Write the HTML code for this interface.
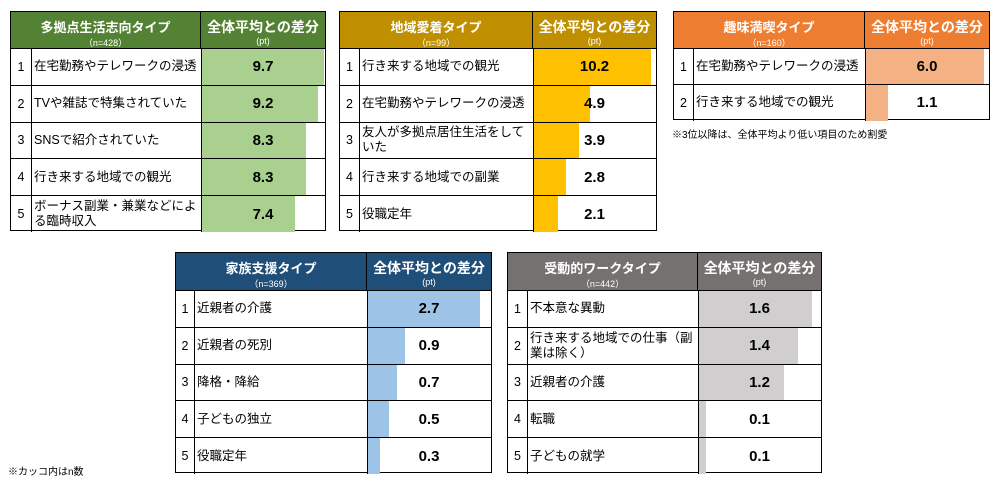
<!DOCTYPE html>
<html><head><meta charset="utf-8">
<style>
body{margin:0;background:#fff;width:1000px;height:490px;position:relative;overflow:hidden;font-family:"Liberation Sans","Noto Sans CJK JP",sans-serif;}
.t{position:absolute;border:1px solid #000;box-sizing:border-box;}
.hd{position:absolute;top:0;left:0;right:0;color:#fff;}
.cell{position:absolute;box-sizing:border-box;}
.ttl{position:absolute;width:100%;text-align:center;font-weight:bold;font-size:13px;top:5px;}
.sub{position:absolute;width:100%;text-align:center;font-size:9px;top:24px;}
.lbl{position:absolute;font-size:12.5px;line-height:15px;display:flex;align-items:center;}
.num{position:absolute;font-size:12.5px;text-align:center;display:flex;align-items:center;justify-content:center;}
.val{position:absolute;font-weight:bold;font-size:15px;display:flex;align-items:center;justify-content:center;}
.bar{position:absolute;}
.note{position:absolute;font-size:10px;color:#000;}
</style></head><body>
<div class="note" style="left:672px;top:126px;">※3位以降は、全体平均より低い項目のため割愛</div>
<div class="note" style="left:8px;top:463px;">※カッコ内はn数</div>
<script>
const t1Labels=["在宅勤務やテレワークの浸透","TVや雑誌で特集されていた","SNSで紹介されていた","行き来する地域での観光","ボーナス副業・兼業などによる臨時収入"];
const t1Values=[9.7,9.2,8.3,8.3,7.4];
const t2Labels=["行き来する地域での観光","在宅勤務やテレワークの浸透","友人が多拠点居住生活をしていた","行き来する地域での副業","役職定年"];
const t2Values=[10.2,4.9,3.9,2.8,2.1];
const t3Labels=["在宅勤務やテレワークの浸透","行き来する地域での観光"];
const t3Values=[6.0,1.1];
const t4Labels=["近親者の介護","近親者の死別","降格・降給","子どもの独立","役職定年"];
const t4Values=[2.7,0.9,0.7,0.5,0.3];
const t5Labels=["不本意な異動","行き来する地域での仕事（副業は除く）","近親者の介護","転職","子どもの就学"];
const t5Values=[1.6,1.4,1.2,0.1,0.1];
const titles=["多拠点生活志向タイプ","地域愛着タイプ","趣味満喫タイプ","家族支援タイプ","受動的ワークタイプ"];
const nLabels=["（n=428）","（n=99）","（n=160）","（n=369）","（n=442）"];

const layouts=[
 {x:10,y:11,w:316,num:21,lab:169,hd:36,row:36.8,hc:"#548235",bc:"#a9d08e",maxPx:122},
 {x:339,y:11,w:318,num:20,lab:173,hd:36,row:36.8,hc:"#bf8f00",bc:"#ffc000",maxPx:117},
 {x:673,y:11,w:317,num:20,lab:171,hd:36,row:36.3,hc:"#ed7d31",bc:"#f4b183",maxPx:118},
 {x:175,y:252,w:317,num:19,lab:172,hd:37,row:36.8,hc:"#1f4e79",bc:"#9dc3e6",maxPx:112},
 {x:507,y:252,w:315,num:20,lab:170,hd:37,row:36.8,hc:"#767171",bc:"#d0cece",maxPx:113}
];
const data=[[t1Labels,t1Values],[t2Labels,t2Values],[t3Labels,t3Values],[t4Labels,t4Values],[t5Labels,t5Values]];

function mk(cls,parent,style){const e=document.createElement('div');e.className=cls;Object.assign(e.style,style);parent.appendChild(e);return e;}

data.forEach(([labels,values],ti)=>{
  const L=layouts[ti];
  const n=labels.length;
  const H=L.hd+L.row*n;
  const t=mk('t',document.body,{left:L.x+'px',top:L.y+'px',width:L.w+'px',height:H+'px'});
  
  
  const vx=L.num+L.lab; const vw=L.w-vx-2;
  const xScale=v=>v/Math.max(...values)*L.maxPx;
  // header
  const h1=mk('cell',t,{left:'0px',top:'0px',width:vx+'px',height:L.hd+'px',background:L.hc,color:'#fff',borderRight:'1px solid #000'});
  
  
  const tt=mk('ttl',h1,{});tt.textContent=titles[ti];
  const st=mk('sub',h1,{});st.textContent=nLabels[ti];
  const h2=mk('cell',t,{left:vx+'px',top:'0px',width:(L.w-vx-2)+'px',height:L.hd+'px',background:L.hc,color:'#fff'});
  
  
  const t2=mk('ttl',h2,{fontSize:'14px'});t2.textContent='全体平均との差分';
  const s2=mk('sub',h2,{});s2.textContent='(pt)';
  labels.forEach((lb,i)=>{
    const y=L.hd+L.row*i;
    const r=mk('cell',t,{left:'0px',top:y+'px',width:(L.w-2)+'px',height:L.row+'px',borderTop:'1px solid #000'});
    
    
    const nm=mk('num',r,{left:'0px',top:'0px',width:L.num+'px',height:'100%',borderRight:'1px solid #000',boxSizing:'border-box'});
    nm.textContent=String(i+1);
    
    
    const lab=mk('lbl',r,{left:(L.num+2)+'px',top:'0px',width:(L.lab-4)+'px',height:'100%'});
    lab.textContent=lb;
    
    
    mk('cell',r,{left:vx+'px',top:'0px',width:'1px',height:'100%',background:'#000'});
    const b=mk('bar',r,{left:(vx+1)+'px',top:'0px',width:xScale(values[i])+'px',height:(L.row-1)+'px',background:L.bc});
    
    
    const v=mk('val',r,{left:vx+'px',top:'0px',width:vw+'px',height:'100%'});
    v.textContent=values[i].toFixed(1);
    
    
  });
});
</script>
</body></html>
